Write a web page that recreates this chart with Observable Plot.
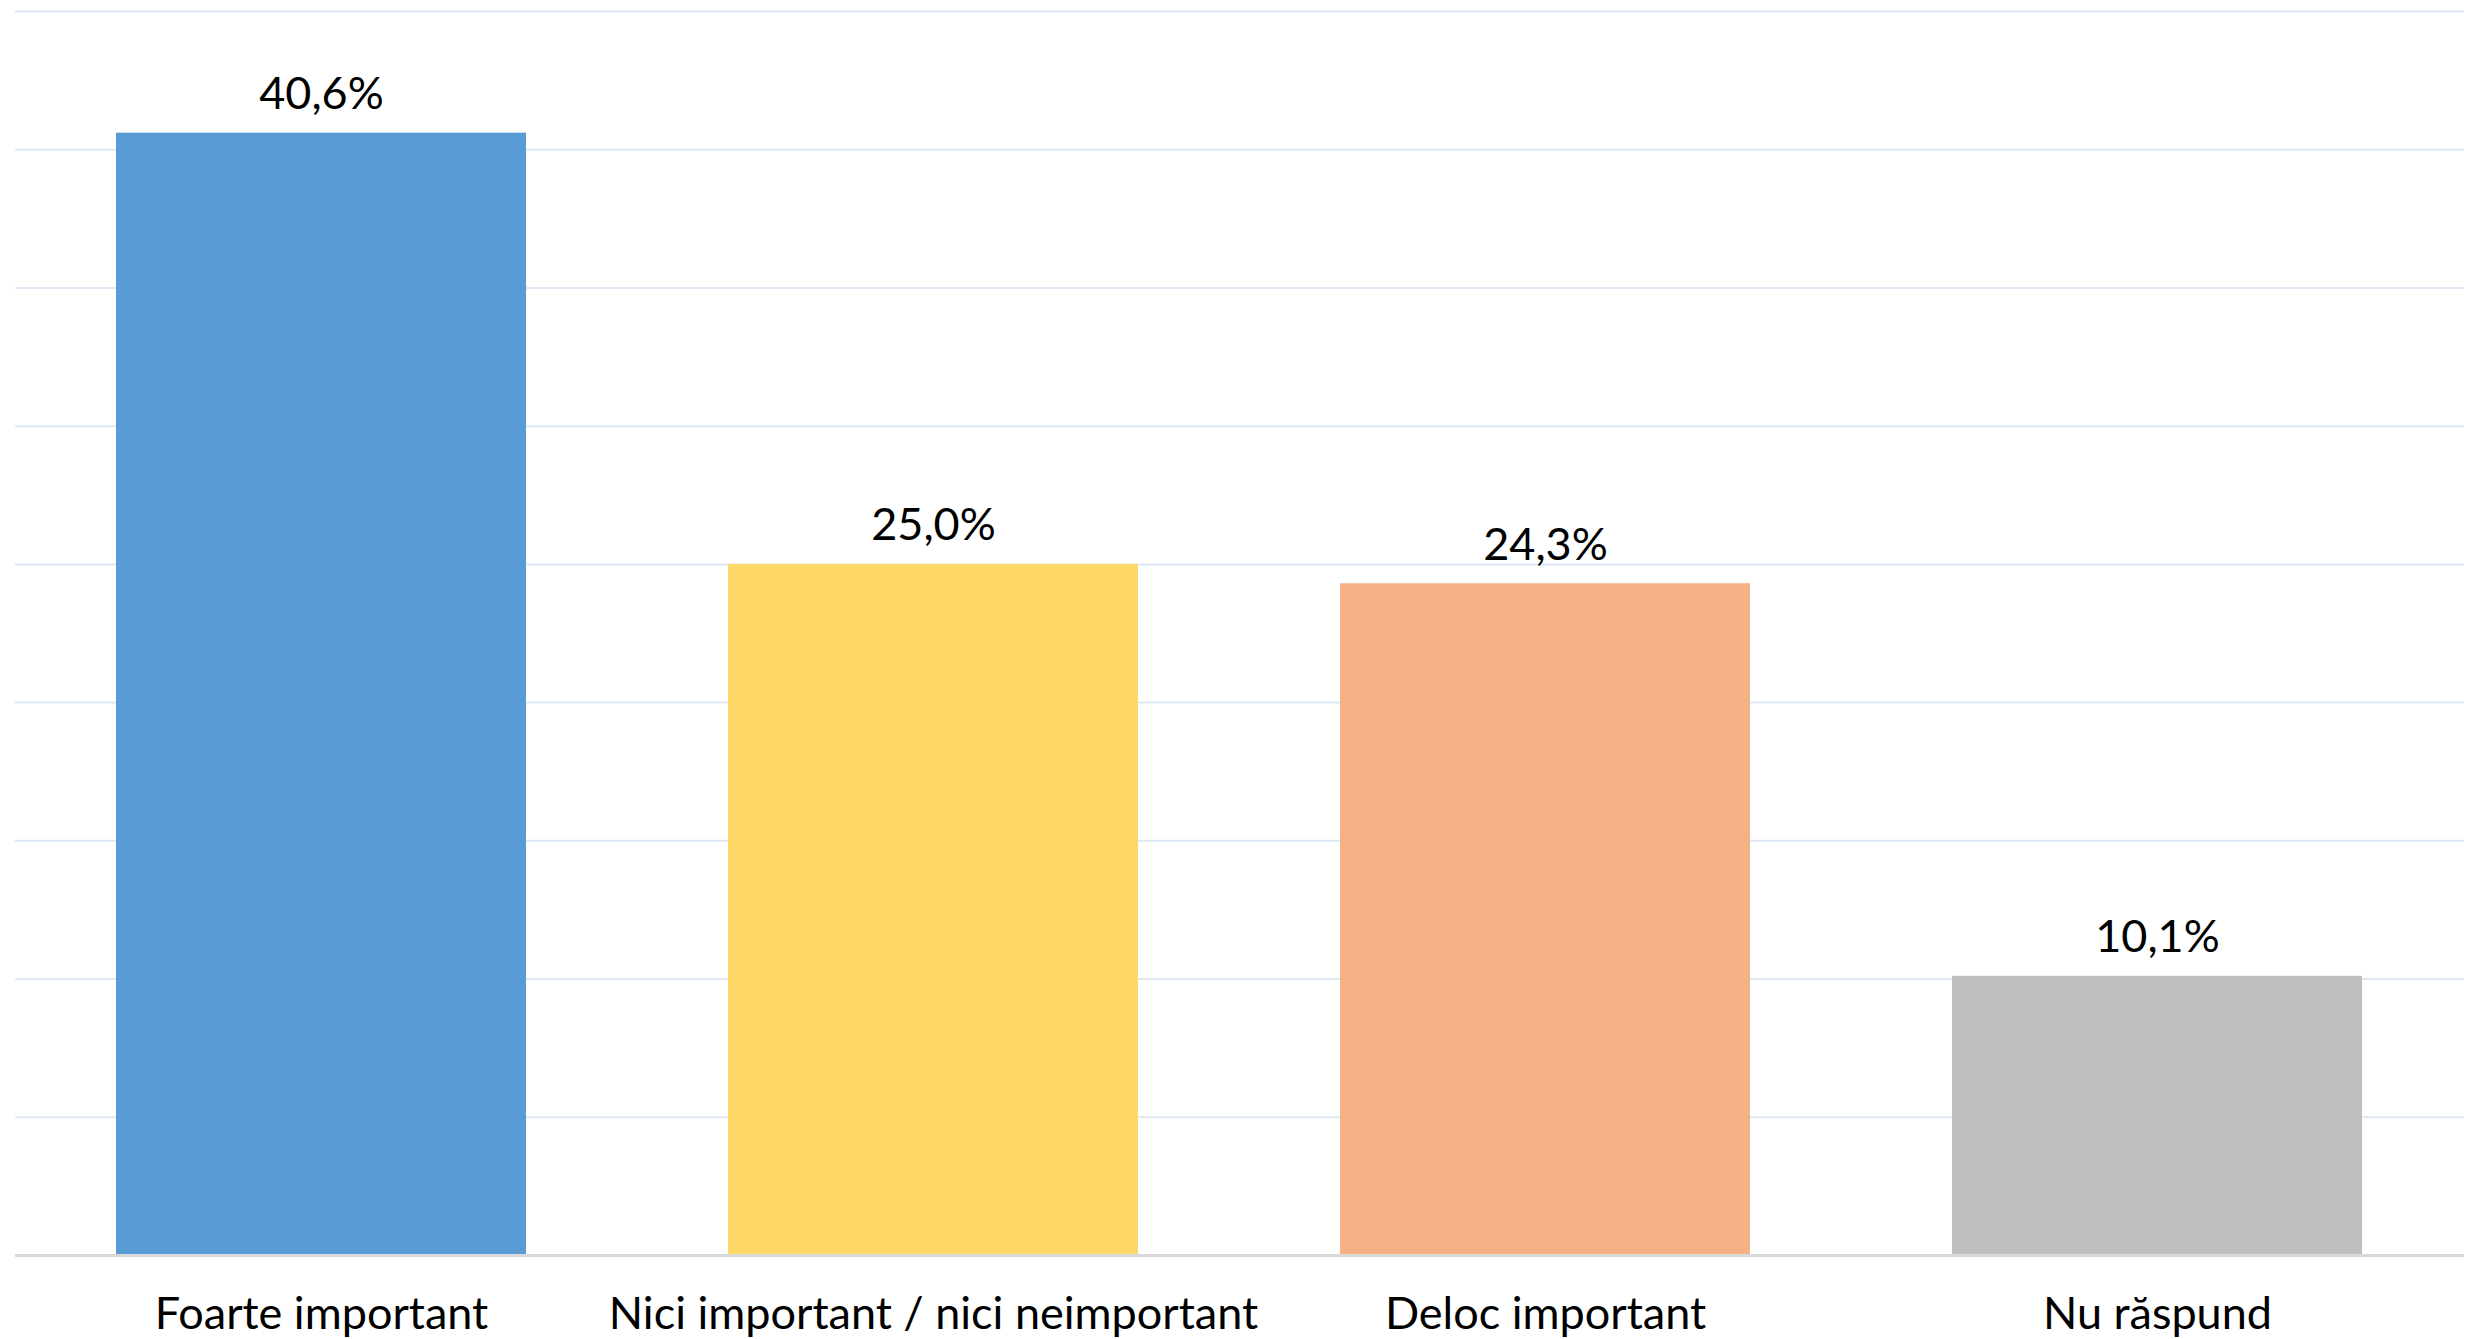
<!DOCTYPE html>
<html>
<head>
<meta charset="utf-8">
<script src="https://cdn.jsdelivr.net/npm/d3@7"></script>
<script src="https://cdn.jsdelivr.net/npm/@observablehq/plot@0.6"></script>
<style>
  html, body { margin: 0; padding: 0; background: #fff; }
</style>
</head>
<body>
<div id="chart"></div>
<script>
const categories = ["Foarte important", "Nici important / nici neimportant", "Deloc important", "Nu răspund"];
const values = [40.6, 25.0, 24.3, 10.1];
const colors = ["#5b9bd5", "#fdd866", "#f4b183", "#bfbfbf"];
const gridTicks = [5, 10, 15, 20, 25, 30, 35, 40, 45];

const data = categories.map((c, i) => ({category: c, value: values[i], color: colors[i]}));
const fmt = v => v.toFixed(1).replace(".", ",") + "%";

const chart = Plot.plot({
  width: 2477,
  height: 1339,
  marginTop: 11,
  marginBottom: 84,
  marginLeft: 15,
  marginRight: 13,
  style: {fontFamily: "Lato, 'Open Sans', sans-serif", background: "#fff", color: "#000"},
  x: {domain: categories, paddingInner: 0.33, paddingOuter: 0.165, label: null},
  y: {domain: [0, 45], label: null},
  marks: [
    Plot.ruleY(gridTicks, {stroke: "#dde8f4", strokeWidth: 2}),
    Plot.barY(data, {x: "category", y: "value", fill: "color"}),
    Plot.ruleY([0], {stroke: "#d9d9d9", strokeWidth: 3}),
    Plot.text(data, {x: "category", y: "value", text: d => fmt(d.value), fontSize: 45, fill: "#000", lineAnchor: "bottom", dy: -24}),
    Plot.axisX({tickSize: 0, tickPadding: 42, fontSize: 45, fill: "#000"}),
    Plot.axisY({ticks: [], tickSize: 0, label: null})
  ]
});
document.getElementById("chart").appendChild(chart);
</script>
</body>
</html>
